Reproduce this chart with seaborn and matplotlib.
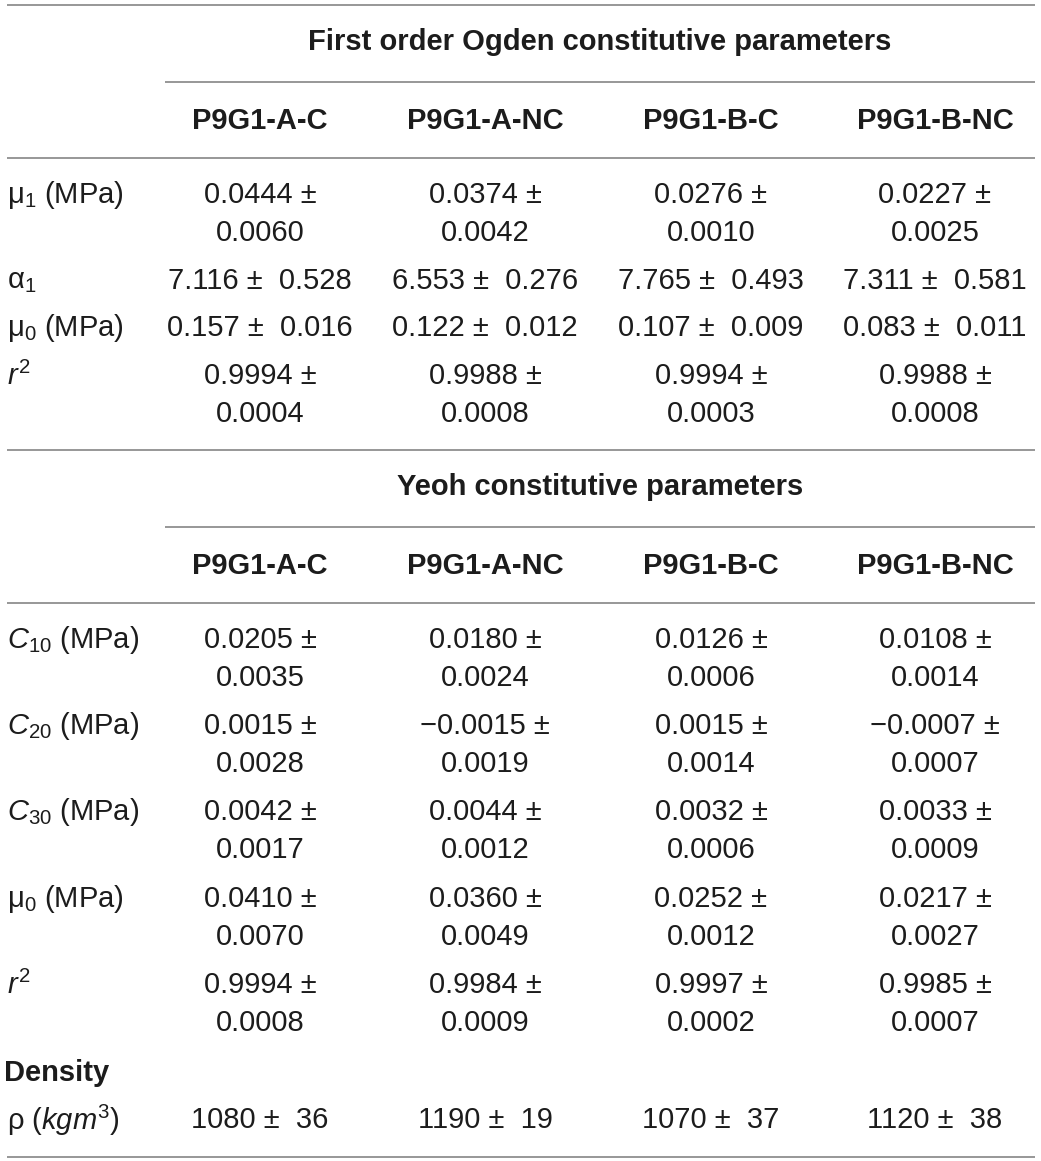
import matplotlib
matplotlib.use("Agg")
import matplotlib.pyplot as plt
import seaborn as sns

# column groups
samples = ["P9G1-A-C", "P9G1-A-NC", "P9G1-B-C", "P9G1-B-NC"]

# first order Ogden parameters (mean, sd)
ogden_labels = [r"$\mathrm{\mu}_1$ (MPa)", r"$\mathrm{\alpha}_1$", r"$\mathrm{\mu}_0$ (MPa)", r"$r^2$"]
ogden_mu1 = [0.0444, 0.0374, 0.0276, 0.0227]
ogden_mu1_sd = [0.0060, 0.0042, 0.0010, 0.0025]
ogden_alpha1 = [7.116, 6.553, 7.765, 7.311]
ogden_alpha1_sd = [0.528, 0.276, 0.493, 0.581]
ogden_mu0 = [0.157, 0.122, 0.107, 0.083]
ogden_mu0_sd = [0.016, 0.012, 0.009, 0.011]
ogden_r2 = [0.9994, 0.9988, 0.9994, 0.9988]
ogden_r2_sd = [0.0004, 0.0008, 0.0003, 0.0008]

# Yeoh parameters (mean, sd)
yeoh_labels = [r"$C_{10}$ (MPa)", r"$C_{20}$ (MPa)", r"$C_{30}$ (MPa)", r"$\mathrm{\mu}_0$ (MPa)", r"$r^2$"]
yeoh_c10 = [0.0205, 0.0180, 0.0126, 0.0108]
yeoh_c10_sd = [0.0035, 0.0024, 0.0006, 0.0014]
yeoh_c20 = [0.0015, -0.0015, 0.0015, -0.0007]
yeoh_c20_sd = [0.0028, 0.0019, 0.0014, 0.0007]
yeoh_c30 = [0.0042, 0.0044, 0.0032, 0.0033]
yeoh_c30_sd = [0.0017, 0.0012, 0.0006, 0.0009]
yeoh_mu0 = [0.0410, 0.0360, 0.0252, 0.0217]
yeoh_mu0_sd = [0.0070, 0.0049, 0.0012, 0.0027]
yeoh_r2 = [0.9994, 0.9984, 0.9997, 0.9985]
yeoh_r2_sd = [0.0008, 0.0009, 0.0002, 0.0007]

# density
density_label = r"$\mathrm{\rho}$ ($kgm^3$)"
density = [1080, 1190, 1070, 1120]
density_sd = [36, 19, 37, 38]

sns.set_theme(style="white")
plt.rcParams["font.family"] = ["Liberation Sans", "DejaVu Sans"]
plt.rcParams["mathtext.fontset"] = "custom"
plt.rcParams["mathtext.rm"] = "Liberation Sans"
plt.rcParams["mathtext.it"] = "Liberation Sans:italic"
plt.rcParams["mathtext.bf"] = "Liberation Sans:bold"

W, H = 1041, 1161
fig = plt.figure(figsize=(W / 100, H / 100), dpi=100)
ax = fig.add_axes([0, 0, 1, 1])
ax.set_xlim(0, W)
ax.set_ylim(H, 0)
ax.axis("off")

fs = 21
txt = "#1c1c1c"
line_c = "#7a7a7a"
col_x = [260, 485, 711, 935]
left = 7
right = 1035


def fmt(v, d):
    s = f"{abs(v):.{d}f}"
    return ("\u2212" + s) if v < 0 else s


def hline(y, x0=left, x1=right):
    ax.plot([x0, x1], [y, y], color=line_c, lw=1.1, solid_capstyle="butt")


def wrapped_row(label, means, sds, d, y1, y2):
    ax.text(left, y1, label, fontsize=fs, color=txt, ha="left", va="center")
    for x, m, s in zip(col_x, means, sds):
        ax.text(x, y1, fmt(m, d) + " \u00b1", fontsize=fs, color=txt, ha="center", va="center")
        ax.text(x, y2, fmt(s, d), fontsize=fs, color=txt, ha="center", va="center")


def single_row(label, means, sds, d, y):
    ax.text(left, y, label, fontsize=fs, color=txt, ha="left", va="center")
    for x, m, s in zip(col_x, means, sds):
        ax.text(x, y, fmt(m, d) + " \u00b1  " + fmt(s, d), fontsize=fs, color=txt,
                ha="center", va="center")


def header(title, y_title, y_under, y_cols, y_line):
    ax.text((165 + right) / 2, y_title, title, fontsize=fs, fontweight="bold",
            color=txt, ha="center", va="center")
    hline(y_under, 165, right)
    for x, name in zip(col_x, samples):
        ax.text(x, y_cols, name, fontsize=fs, fontweight="bold", color=txt,
                ha="center", va="center")
    hline(y_line)


# Ogden block
hline(5)
header("First order Ogden constitutive parameters", 42, 82, 121, 158)
wrapped_row(ogden_labels[0], ogden_mu1, ogden_mu1_sd, 4, 195, 233)
single_row(ogden_labels[1], ogden_alpha1, ogden_alpha1_sd, 3, 281)
single_row(ogden_labels[2], ogden_mu0, ogden_mu0_sd, 3, 328)
wrapped_row(ogden_labels[3], ogden_r2, ogden_r2_sd, 4, 376, 414)

# Yeoh block
hline(450)
header("Yeoh constitutive parameters", 487, 527, 566, 603)
yeoh_rows = [(yeoh_c10, yeoh_c10_sd), (yeoh_c20, yeoh_c20_sd), (yeoh_c30, yeoh_c30_sd),
             (yeoh_mu0, yeoh_mu0_sd), (yeoh_r2, yeoh_r2_sd)]
y_starts = [640, 726, 812, 899, 985]
for lab, (m, s), y in zip(yeoh_labels, yeoh_rows, y_starts):
    wrapped_row(lab, m, s, 4, y, y + 38)

# density
ax.text(left - 3, 1073, "Density", fontsize=fs, fontweight="bold", color=txt,
        ha="left", va="center")
single_row(density_label, density, density_sd, 0, 1120)
hline(1157)

fig.savefig("out.png", dpi=100)
